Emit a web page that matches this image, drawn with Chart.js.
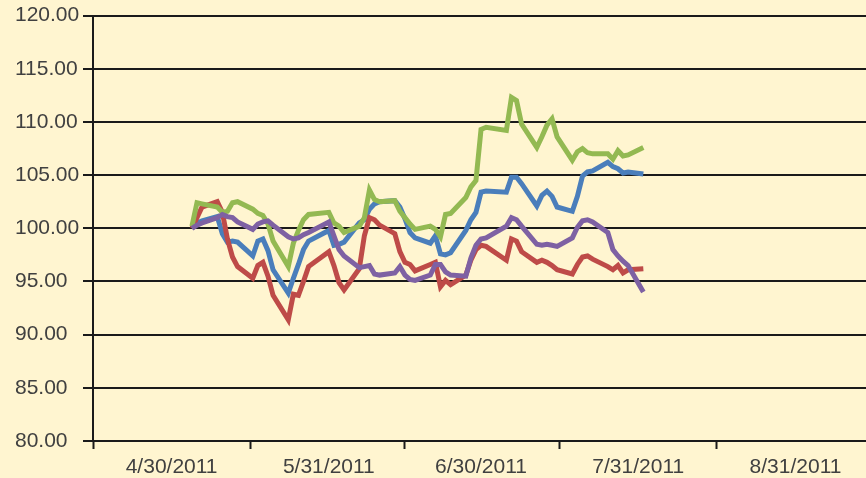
<!DOCTYPE html>
<html>
<head>
<meta charset="utf-8">
<script src="https://cdn.jsdelivr.net/npm/chart.js@4/dist/chart.umd.min.js"></script>
<style>
  html, body { margin: 0; padding: 0; background: #FFF5D0; }
  canvas { display: block; }
</style>
</head>
<body>
<canvas id="chart" width="866" height="478"></canvas>
<script>
// trading days (2011)
var dates = [
    '5/4', '5/5', '5/6', '5/9', '5/10', '5/11', '5/12', '5/13',
    '5/16', '5/17', '5/18', '5/19', '5/20', '5/23', '5/24', '5/25', '5/26', '5/27',
    '5/31', '6/1', '6/2', '6/3', '6/6', '6/7', '6/8', '6/9', '6/10',
    '6/13', '6/14', '6/15', '6/16', '6/17', '6/20', '6/21', '6/22', '6/23', '6/24',
    '6/27', '6/28', '6/29', '6/30', '7/1', '7/5', '7/6', '7/7', '7/8',
    '7/11', '7/12', '7/13', '7/14', '7/15', '7/18', '7/19', '7/20', '7/21', '7/22',
    '7/25', '7/26', '7/27', '7/28', '7/29', '8/1'
];

var blue = [
    100.0, 100.5, 100.7, 101.1, 99.5, 98.7, 98.8, 98.7,
    97.4, 98.8, 99.0, 97.9, 96.1, 93.9, 95.3, 96.6, 98.0, 98.8,
    99.8, 98.4, 98.5, 98.7, 100.5, 100.8, 101.8, 102.3, 102.5,
    102.6, 102.0, 100.9, 99.6, 99.1, 98.6, 99.3, 97.6, 97.5, 97.7,
    99.8, 100.8, 101.5, 103.4, 103.5, 103.4, 104.8, 104.8, 104.2,
    102.1, 103.1, 103.5, 103.0, 102.0, 101.6, 103.0, 104.9, 105.3, 105.4,
    106.2, 105.8, 105.6, 105.2, 105.3, 105.1
];

var red = [
    100.0, 101.0, 102.0, 102.5, 101.5, 99.0, 97.3, 96.4,
    95.3, 96.5, 96.8, 95.5, 93.7, 91.4, 93.8, 93.7, 95.0, 96.4,
    97.8, 96.5, 94.9, 94.2, 96.2, 99.3, 101.0, 100.8, 100.3,
    99.5, 97.8, 96.8, 96.6, 96.0, 96.6, 96.8, 94.5, 95.1, 94.7,
    95.6, 97.0, 98.0, 98.4, 98.3, 97.0, 99.0, 98.8, 97.8,
    96.8, 97.0, 96.8, 96.5, 96.1, 95.7, 96.6, 97.3, 97.4, 97.1,
    96.4, 96.1, 96.5, 95.8, 96.1, 96.2
];

var green = [
    100.2, 102.4, 102.3, 102.0, 101.5, 101.6, 102.4, 102.5,
    101.8, 101.4, 101.2, 100.4, 98.8, 96.4, 98.6, 99.8, 100.8, 101.3,
    101.5, 100.5, 100.2, 99.6, 100.2, 101.0, 103.6, 102.7, 102.5,
    102.6, 101.6, 101.0, 100.4, 99.9, 100.2, 99.9, 99.2, 101.3, 101.4,
    102.9, 103.9, 104.5, 109.3, 109.5, 109.2, 112.3, 112.0, 109.8,
    107.6, 108.6, 109.7, 110.3, 108.6, 106.4, 107.2, 107.5, 107.1, 107.0,
    107.0, 106.5, 107.3, 106.8, 106.9, 107.6
];

var purple = [
    100.0, 100.3, 100.5, 101.0, 101.3, 101.1, 101.0, 100.6,
    99.9, 100.4, 100.6, 100.7, 100.3, 99.2, 99.0, 99.1, 99.4, 99.6,
    100.6, 99.3, 98.0, 97.4, 96.3, 96.4, 96.5, 95.7, 95.6,
    95.8, 96.4, 95.6, 95.2, 95.1, 95.6, 96.6, 96.6, 95.9, 95.6,
    95.5, 97.2, 98.4, 99.0, 99.1, 100.2, 101.0, 100.8, 100.2,
    98.5, 98.4, 98.5, 98.4, 98.3, 99.1, 100.1, 100.7, 100.8, 100.6,
    99.6, 98.0, 97.4, 96.9, 96.5, 94.0
];

// axis labels (month ends)
var xLabels = ['4/30/2011', '5/31/2011', '6/30/2011', '7/31/2011', '8/31/2011'];
var yMin = 80, yMax = 120, yStep = 5;

// days counted from 4/30/2011
function dayOf(s) {
    var p = s.split('/');
    var y = p.length > 2 ? +p[2] : 2011;
    return (Date.UTC(y, +p[0] - 1, +p[1]) - Date.UTC(2011, 3, 30)) / 86400000;
}
var labelDays = xLabels.map(dayOf);
// tick marks sit half way between labels
var markDays = [labelDays[0] - 15.5];
for (var i = 0; i < labelDays.length - 1; i++) {
    markDays.push((labelDays[i] + labelDays[i + 1]) / 2);
}
var xMin = markDays[0];
var xMax = xMin + 152.4;

function series(values) {
    return values.map(function (v, i) { return { x: dayOf(dates[i]), y: v }; });
}

function line(values, color, order) {
    return {
        data: series(values),
        borderColor: color,
        backgroundColor: color,
        borderWidth: 5,
        pointRadius: 0,
        tension: 0,
        order: order
    };
}

Chart.defaults.font.family = "'Liberation Sans', Arial, sans-serif";
Chart.defaults.font.size = 21;
Chart.defaults.color = '#404040';

var axisColor = '#1a1a1a';

new Chart(document.getElementById('chart'), {
    type: 'line',
    data: {
        datasets: [
            line(blue, '#4A7EBB', 4),
            line(red, '#BE4B48', 3),
            line(green, '#93B952', 2),
            line(purple, '#7E61A3', 1)
        ]
    },
    options: {
        responsive: false,
        animation: false,
        layout: { padding: { left: 15, top: 6, right: 0, bottom: 0 } },
        plugins: { legend: { display: false }, tooltip: { enabled: false } },
        scales: {
            x: {
                type: 'linear',
                min: xMin,
                max: xMax,
                afterBuildTicks: function (scale) {
                    var all = markDays.concat(labelDays).filter(function (v) {
                        return v >= xMin && v <= xMax;
                    });
                    all.sort(function (a, b) { return a - b; });
                    scale.ticks = all.map(function (v) { return { value: v }; });
                },
                afterFit: function (scale) { scale.height = 37; },
                ticks: {
                    autoSkip: false,
                    maxRotation: 0,
                    padding: 6,
                    callback: function (v) {
                        var k = labelDays.indexOf(v);
                        return k >= 0 ? xLabels[k] : '';
                    }
                },
                grid: {
                    drawOnChartArea: false,
                    drawTicks: true,
                    tickLength: 8,
                    tickWidth: 2,
                    tickColor: function (ctx) {
                        return ctx.tick && markDays.indexOf(ctx.tick.value) >= 0 ? axisColor : 'rgba(0,0,0,0)';
                    }
                },
                border: { color: axisColor, width: 2 }
            },
            y: {
                min: yMin,
                max: yMax,
                afterFit: function (scale) { scale.width = 78; },
                ticks: {
                    stepSize: yStep,
                    crossAlign: 'far',
                    callback: function (v) { return v.toFixed(2); }
                },
                grid: {
                    color: axisColor,
                    lineWidth: 2,
                    tickLength: 10,
                    tickWidth: 2,
                    tickColor: axisColor
                },
                border: { color: axisColor, width: 2 }
            }
        }
    }
});
</script>
</body>
</html>
